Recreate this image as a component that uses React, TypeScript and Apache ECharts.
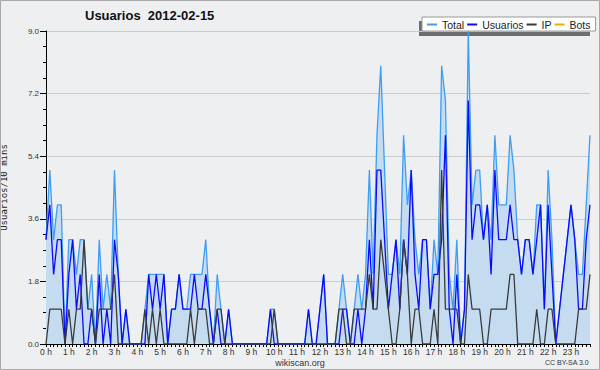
import React, { useEffect, useRef } from 'react';
import * as echarts from 'echarts';

const titleText = 'Usuarios  2012-02-15';
const yAxisName = 'Usuarios/10 mins';
const footerLeft = 'wikiscan.org';
const footerRight = 'CC BY-SA 3.0';

const hourLabels = [
  '0 h', '1 h', '2 h', '3 h', '4 h', '5 h', '6 h', '7 h', '8 h', '9 h', '10 h', '11 h',
  '12 h', '13 h', '14 h', '15 h', '16 h', '17 h', '18 h', '19 h', '20 h', '21 h', '22 h', '23 h',
];
const slotsPerHour = 6;

const yTicks = { min: 0, max: 9, interval: 1.8 };

const totalData = [
  3, 5, 3, 4, 4, 0, 3, 3, 2, 3, 3, 1,
  2, 0, 3, 1, 2, 1, 5, 2, 0, 1, 0, 0,
  0, 0, 1, 2, 2, 2, 2, 2, 0, 1, 1, 2,
  1, 1, 2, 2, 2, 2, 3, 1, 0, 2, 1, 0,
  1, 0, 0, 0, 0, 0, 0, 0, 0, 0, 0, 1,
  1, 0, 0, 0, 0, 0, 0, 0, 0, 1, 0, 0,
  1, 2, 0, 0, 0, 1, 2, 1, 0, 1, 2, 1,
  2, 5, 2, 6, 8, 5, 2, 2, 3, 2, 6, 4,
  5, 3, 2, 3, 3, 1, 3, 2, 8, 7, 2, 1,
  3, 0, 1, 9, 4, 5, 5, 3, 4, 3, 6, 4,
  4, 4, 6, 5, 3, 2, 3, 3, 2, 4, 4, 1,
  5, 3, 0, 1, 2, 3, 4, 3, 2, 2, 4, 6,
];

const usuariosData = [
  3, 4, 2, 3, 3, 0, 2, 3, 1, 2, 0, 0,
  1, 0, 2, 0, 1, 0, 3, 2, 0, 1, 0, 0,
  0, 0, 0, 2, 1, 2, 1, 2, 0, 1, 1, 2,
  1, 1, 1, 2, 1, 1, 2, 1, 0, 1, 0, 0,
  1, 0, 0, 0, 0, 0, 0, 0, 0, 0, 0, 1,
  0, 0, 0, 0, 0, 0, 0, 0, 0, 1, 0, 0,
  1, 2, 0, 0, 0, 0, 1, 1, 0, 0, 1, 0,
  1, 3, 1, 5, 5, 3, 1, 2, 3, 1, 3, 2,
  5, 2, 1, 3, 3, 1, 2, 2, 3, 6, 1, 0,
  2, 0, 1, 7, 3, 4, 4, 3, 4, 2, 5, 3,
  3, 3, 4, 3, 3, 2, 3, 3, 2, 3, 4, 1,
  4, 2, 0, 1, 2, 3, 4, 3, 1, 1, 3, 4,
];

const ipData = [
  0, 1, 1, 1, 1, 0, 1, 0, 1, 1, 3, 1,
  1, 0, 1, 1, 1, 1, 2, 0, 0, 0, 0, 0,
  0, 0, 1, 0, 1, 0, 1, 0, 0, 0, 0, 0,
  0, 0, 1, 0, 1, 1, 1, 0, 0, 1, 1, 0,
  0, 0, 0, 0, 0, 0, 0, 0, 0, 0, 0, 0,
  1, 0, 0, 0, 0, 0, 0, 0, 0, 0, 0, 0,
  0, 0, 0, 0, 0, 1, 1, 0, 0, 1, 1, 1,
  1, 2, 1, 1, 3, 2, 1, 0, 0, 1, 3, 2,
  0, 1, 1, 0, 0, 0, 1, 0, 5, 1, 1, 1,
  1, 0, 0, 2, 1, 1, 1, 0, 0, 1, 1, 1,
  1, 1, 2, 2, 0, 0, 0, 0, 0, 1, 0, 0,
  1, 1, 0, 0, 0, 0, 0, 0, 1, 1, 1, 2,
];

const botsData = [
  0, 0, 0, 0, 0, 0, 0, 0, 0, 0, 0, 0,
  0, 0, 0, 0, 0, 0, 0, 0, 0, 0, 0, 0,
  0, 0, 0, 0, 0, 0, 0, 0, 0, 0, 0, 0,
  0, 0, 0, 0, 0, 0, 0, 0, 0, 0, 0, 0,
  0, 0, 0, 0, 0, 0, 0, 0, 0, 0, 0, 0,
  0, 0, 0, 0, 0, 0, 0, 0, 0, 0, 0, 0,
  0, 0, 0, 0, 0, 0, 0, 0, 0, 0, 0, 0,
  0, 0, 0, 0, 0, 0, 0, 0, 0, 0, 0, 0,
  0, 0, 0, 0, 0, 0, 0, 0, 0, 0, 0, 0,
  0, 0, 0, 0, 0, 0, 0, 0, 0, 0, 0, 0,
  0, 0, 0, 0, 0, 0, 0, 0, 0, 0, 0, 0,
  0, 0, 0, 0, 0, 0, 0, 0, 0, 0, 0, 0,
];

const seriesNames = ['Total', 'Usuarios', 'IP', 'Bots'];

export default function App() {
  const ref = useRef<HTMLDivElement>(null);

  useEffect(() => {
    const el = ref.current;
    if (!el) return;
    const chart = echarts.init(el, null, { renderer: 'svg' });

    const categories: string[] = [];
    hourLabels.forEach((_, hi) => {
      for (let m = 0; m < slotsPerHour; m++) categories.push(`${hi}:${m}0`);
    });

    const font = 'Liberation Sans, Arial, sans-serif';

    const option: any = {
      animation: false,
      backgroundColor: '#eeeff1',
      textStyle: { fontFamily: font },
      title: {
        text: titleText,
        left: 85,
        top: 9,
        padding: 0,
        textStyle: { fontSize: 13, fontWeight: 'bold', color: '#111', fontFamily: font },
      },
      legend: {
        left: 422,
        top: 17,
        padding: [2, 5, 1, 5],
        itemGap: 3,
        itemWidth: 10,
        itemHeight: 2,
        icon: 'rect',
        backgroundColor: '#ffffff',
        borderColor: '#999999',
        borderWidth: 1,
        borderRadius: 0,
        textStyle: { fontSize: 10.5, color: '#222', fontFamily: font, padding: [0, 0, 0, 0] },
        data: seriesNames,
      },
      grid: {
        left: 46,
        right: 10,
        top: 31,
        bottom: 26,
        containLabel: false,
        outerBoundsMode: 'none',
      },
      xAxis: {
        type: 'category',
        data: categories,
        boundaryGap: false,
        z: 1.5,
        axisLine: { show: true, lineStyle: { color: '#000', width: 1 } },
        axisTick: { show: true, interval: 0, length: 3, lineStyle: { color: '#000', width: 1 } },
        axisLabel: {
          interval: slotsPerHour - 1,
          margin: 3,
          fontSize: 8.5,
          lineHeight: 9,
          color: '#333',
          fontFamily: font,
          formatter: (_v: string, idx: number) => hourLabels[Math.floor(idx / slotsPerHour)] || '',
        },
        splitLine: { show: false },
      },
      yAxis: {
        type: 'value',
        min: yTicks.min,
        max: yTicks.max,
        interval: yTicks.interval,
        name: yAxisName,
        nameLocation: 'middle',
        nameGap: 38,
        nameRotate: 90,
        nameTextStyle: { fontFamily: 'DejaVu Sans Mono, monospace', fontSize: 9, color: '#222' },
        axisLine: { show: true, lineStyle: { color: '#000', width: 1 } },
        axisTick: { show: true, length: 6, lineStyle: { color: '#000', width: 1 } },
        minorTick: { show: true, splitNumber: 4, length: 3, lineStyle: { color: '#000', width: 1 } },
        axisLabel: {
          margin: 7,
          fontSize: 8,
          color: '#333',
          fontFamily: font,
          formatter: (v: number) => v.toFixed(1),
        },
        splitLine: { show: true, lineStyle: { color: '#cccccc', width: 1 } },
      },
      graphic: [
        {
          type: 'rect',
          left: 419,
          top: 21,
          shape: { width: 171, height: 15 },
          style: { fill: '#6e6e6e' },
          z: 0,
        },
        {
          type: 'text',
          left: 'center',
          top: 358,
          style: { text: footerLeft, fontSize: 9, fill: '#333', fontFamily: font },
        },
        {
          type: 'text',
          right: 11,
          top: 359,
          style: { text: footerRight, fontSize: 7, fill: '#333', fontFamily: font },
        },
        {
          type: 'rect',
          shape: { x: 0.5, y: 0.5, width: 599, height: 369 },
          style: { fill: 'none', stroke: '#a8a8a8', lineWidth: 1 },
          silent: true,
          z: 10,
        },
      ],
      series: [
        {
          name: 'Total',
          type: 'line',
          data: totalData,
          showSymbol: false,
          symbol: 'none',
          color: '#3d9ef2',
          lineStyle: { color: '#3d9ef2', width: 1.3 },
          areaStyle: { color: '#c5dcf0', opacity: 1 },
          z: 2,
        },
        {
          name: 'Usuarios',
          type: 'line',
          data: usuariosData,
          showSymbol: false,
          symbol: 'none',
          color: '#0a0aff',
          lineStyle: { color: '#0a0aff', width: 1.3 },
          z: 3,
        },
        {
          name: 'IP',
          type: 'line',
          data: ipData,
          showSymbol: false,
          symbol: 'none',
          color: '#3a3a3a',
          lineStyle: { color: '#3a3a3a', width: 1.3 },
          z: 4,
        },
        {
          name: 'Bots',
          type: 'line',
          data: botsData,
          showSymbol: false,
          symbol: 'none',
          color: '#ffa500',
          lineStyle: { color: '#ffa500', width: 1.3 },
          z: 1,
        },
      ],
    };

    chart.setOption(option);
    return () => chart.dispose();
  }, []);

  return (
    <div
      ref={ref}
      style={{ position: 'absolute', left: 0, top: 0, width: 600, height: 370 }}
    />
  );
}
